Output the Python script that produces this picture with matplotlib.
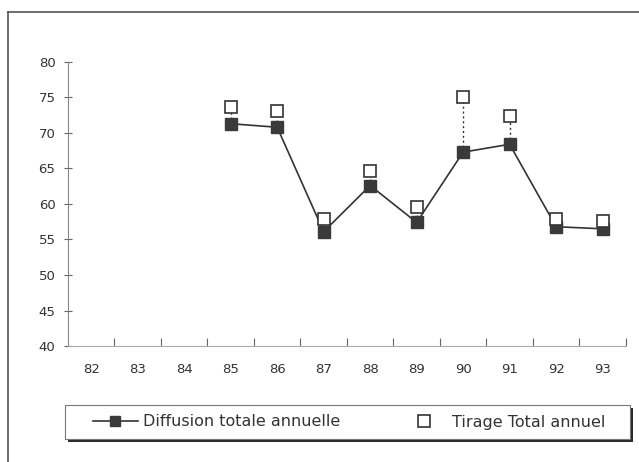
import numpy as np
import matplotlib
matplotlib.use("Agg")
import matplotlib.pyplot as plt
from matplotlib.lines import Line2D
from matplotlib.patches import Rectangle

annees = ['82', '83', '84', '85', '86', '87', '88', '89', '90', '91', '92', '93']
annees_data = ['85', '86', '87', '88', '89', '90', '91', '92', '93']
diffusion = [71.3, 70.8, 56.1, 62.6, 57.4, 67.3, 68.4, 56.8, 56.5]
tirage = [73.7, 73.1, 57.9, 64.6, 59.6, 75.1, 72.4, 57.9, 57.6]
yticks = [40, 45, 50, 55, 60, 65, 70, 75, 80]

plt.rcParams['font.family'] = ['DejaVu Sans']

fig = plt.figure(figsize=(6.39, 4.62), dpi=100)
ax = fig.add_axes([0.1064, 0.251, 0.873, 0.615])

pos = [annees.index(a) for a in annees_data]

# lignes pointillées entre diffusion et tirage
ax.vlines(pos, diffusion, tirage, colors='#333333', linestyles=(0, (1.5, 2)), linewidth=1.0, zorder=1)
ax.plot(pos, diffusion, '-', color='#333333', linewidth=1.2, marker='s', markersize=8,
        markerfacecolor='#3a3a3a', markeredgecolor='#3a3a3a', zorder=3,
        label='Diffusion totale annuelle')
ax.plot(pos, tirage, linestyle='none', marker='s', markersize=9, markerfacecolor='white',
        markeredgecolor='#333333', markeredgewidth=1.2, zorder=4, label='Tirage Total annuel')

ax.set_xlim(-0.5, len(annees) - 0.5)
ax.set_ylim(40, 80)
ax.set_yticks(yticks)
ax.set_yticklabels([str(v) for v in yticks], fontsize=9.5, color='#333333')
ax.set_xticks(np.arange(len(annees)) + 0.5)
ax.set_xticklabels([])
ax.set_xticks(np.arange(len(annees)), minor=True)
ax.set_xticklabels(annees, minor=True, fontsize=9.5, color='#333333')
ax.tick_params(axis='x', which='major', direction='in', length=6, color='#666666')
ax.tick_params(axis='x', which='minor', length=0, pad=12)
ax.tick_params(axis='y', direction='inout', length=6, color='#666666', pad=6)

for s in ['top', 'right']:
    ax.spines[s].set_visible(False)
ax.spines['left'].set_color('#888888')
ax.spines['bottom'].set_color('#aaaaaa')

# cadre extérieur
fig.add_artist(Line2D([8 / 639, 1], [1 - 12 / 462, 1 - 12 / 462], color='#555555', linewidth=1.2))
fig.add_artist(Line2D([8 / 639, 8 / 639], [0, 1 - 12 / 462], color='#555555', linewidth=1.2))

# légende avec ombre
lx0, lx1 = 65 / 639, 630 / 639
ly0, ly1 = 1 - 439 / 462, 1 - 405 / 462
fig.add_artist(Rectangle((lx0 + 0.005, ly0 - 0.007), lx1 - lx0, ly1 - ly0,
                         transform=fig.transFigure, facecolor='#2a2a2a', edgecolor='none'))
fig.add_artist(Rectangle((lx0, ly0), lx1 - lx0, ly1 - ly0, transform=fig.transFigure,
                         facecolor='white', edgecolor='#777777', linewidth=0.8))
leg = fig.legend(loc='center left', bbox_to_anchor=(93 / 639, (ly0 + ly1) / 2), ncol=2,
                 frameon=False, fontsize=11.5, columnspacing=3.9, handlelength=2.8,
                 handletextpad=0.3, borderaxespad=0, borderpad=0, markerscale=0.9)
for t in leg.get_texts():
    t.set_color('#333333')

fig.savefig('out.png', dpi=100)
